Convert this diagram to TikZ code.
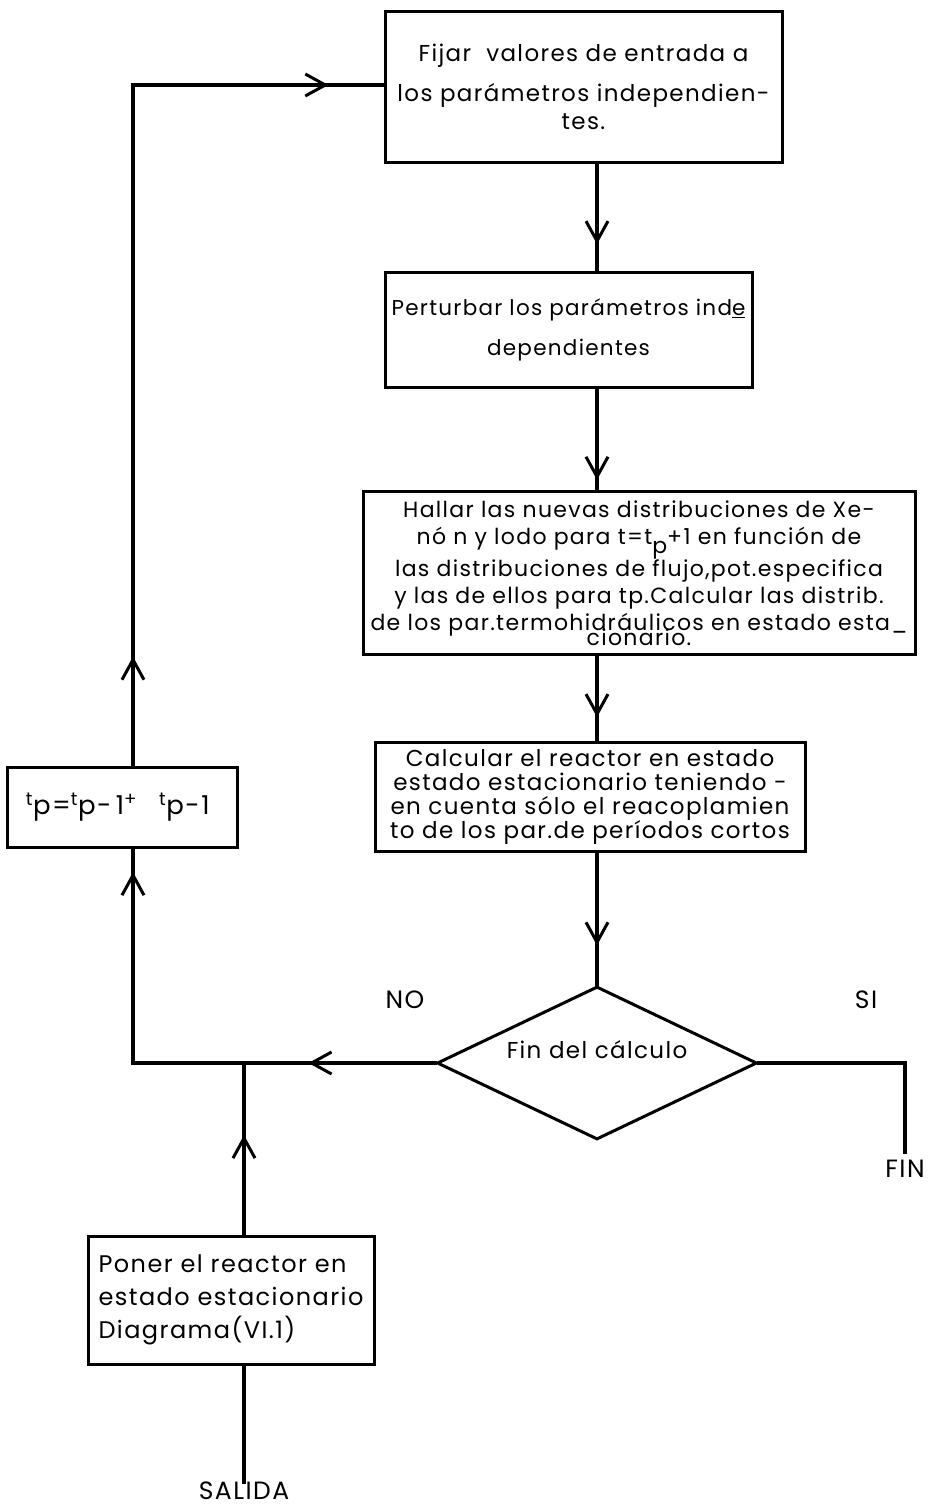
\documentclass[tikz,border=0pt]{standalone}
\usepackage{fontspec}
\setmainfont[LetterSpace=6]{Poppins}
\usetikzlibrary{arrows.meta,positioning,shapes.geometric,decorations.markings}
\tikzset{
  proceso/.style={
    rectangle,
    draw=black,
    line width=3pt,
    align=center,
    inner sep=4pt,
    font=\fontsize{23}{28}\selectfont
  },
  decision/.style={
    diamond,
    draw=black,
    line width=3pt,
    shape aspect=2,
    minimum width=320pt,
    minimum height=153pt,
    inner sep=0pt,
    font=\fontsize{23}{28}\selectfont
  },
  etiqueta/.style={inner sep=0pt, font=\fontsize{25}{28}\selectfont},
  linea/.style={line width=3.5pt, line cap=rect},
  marca/.style={postaction={decorate, decoration={markings,
    mark=at position #1 with {\arrow[line width=3pt]{Straight Barb[length=20pt,width=22pt]}}}}}
}

\begin{document}
\begin{tikzpicture}[x=1pt, y=-1pt]
\useasboundingbox (0,0) rectangle (930,1511);

\coordinate (eje) at (597,0);
\coordinate (izq) at (133,85);
\coordinate (esquina) at (133,1063);
\coordinate (union) at (244,1063);
\coordinate (sicodo) at (905,1063);

\node[proceso, minimum width=397pt, minimum height=151pt] (fijar) at (583.5,87) {
Fijar\ \ valores de entrada a\\[12pt]
los parámetros independien-\\
tes.
};

\node[proceso, minimum width=367pt, minimum height=115pt, font=\fontsize{21.5}{28}\selectfont] (perturbar) at (568.5,330) {
Perturbar los parámetros ind\underline{e}\\[12pt]
dependientes
};

\node[proceso, minimum width=552pt, minimum height=163pt, font=\fontsize{22}{27}\selectfont] (hallar) at (639,573) {
Hallar las nuevas distribuciones de Xe-\\
nó n y lodo para t=t\raisebox{-9pt}{p}+1 en función de\\
las distribuciones de flujo,pot.especifica\\
y las de ellos para tp.Calcular las distrib.\\
de los par.termohidráulicos en estado esta\_\\[-12pt]
cionario.
};

\node[proceso, minimum width=430pt, minimum height=109pt, font=\fontsize{23}{24}\selectfont] (calcular) at (590,797) {
Calcular el reactor en estado\\
estado estacionario teniendo -\\
en cuenta sólo el reacoplamien\\
to de los par.de períodos cortos
};

\node[decision] (fin del) at (597,1063) {\raisebox{5pt}[0pt][0pt]{Fin del cálculo}};

\node[proceso, minimum width=230pt, minimum height=80pt, font=\fontsize{26}{28}\selectfont] (actualizar) at (122,807) {
\textsuperscript{t}p=\textsuperscript{t}p-\,1\textsuperscript{+}\hspace{22pt}\textsuperscript{t}p-1
};

\node[proceso, minimum width=286pt, minimum height=128pt, align=left, font=\fontsize{24}{33}\selectfont] (poner) at (231,1300) {
Poner el reactor en\\
estado estacionario\\
Diagrama(VI.1)
};

\node[etiqueta] (no) at (405,1000) {NO};
\node[etiqueta] (si) at (866,1000) {SI};
\node[etiqueta, anchor=north] (fin) at (905,1160) {FIN};
\node[etiqueta, anchor=north] (salida) at (244,1482) {SALIDA};

\draw[linea, marca=0.75] (fijar.south -| eje) -- (perturbar.north -| eje);
\draw[linea, marca=0.9] (perturbar.south -| eje) -- (hallar.north -| eje);
\draw[linea, marca=0.72] (hallar.south -| eje) -- (calcular.north -| eje);
\draw[linea, marca=0.7] (calcular.south -| eje) -- (fin del.north);
\draw[linea, marca=0.42] (fin del.west) -- (esquina);
\draw[linea, marca=0.89] (esquina) -- (actualizar.south -| esquina);
\draw[linea, marca=0.16] (actualizar.north -| esquina) -- (izq);
\draw[linea, marca=0.78] (izq) -- (izq -| fijar.west);
\draw[linea, marca=0.58] (poner.north -| union) -- (union);
\draw[linea] (poner.south -| union) -- (salida.north -| union);
\draw[linea] (fin del.east) -- (sicodo) -- ([yshift=8pt]fin.north);

\end{tikzpicture}
\end{document}
